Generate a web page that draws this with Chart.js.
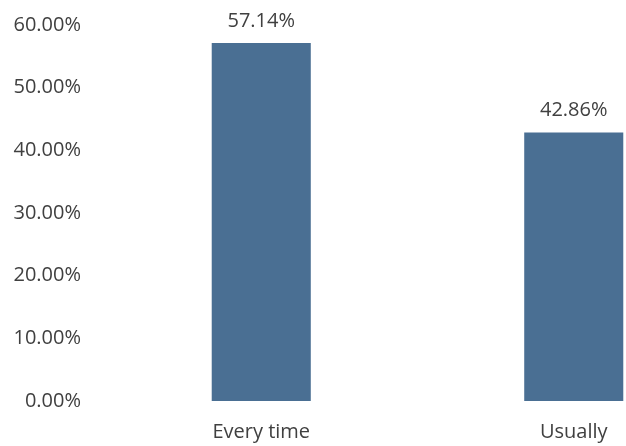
<!DOCTYPE html>
<html>
<head>
<meta charset="utf-8">
<script src="https://cdn.jsdelivr.net/npm/chart.js@4"></script>
<style>
    html, body { margin: 0; padding: 0; background: #fff; overflow: hidden; }
    /* the source chart is cut off at the right edge, so the canvas is wider than the window */
    #wrap { width: 730px; height: 446px; }
</style>
</head>
<body>
<div id="wrap"><canvas id="chart"></canvas></div>
<script>
// --- data ---
const categories = ["Every time", "Usually"];
const shares = [57.14, 42.86];          // %
const yTicks = [0, 10, 20, 30, 40, 50, 60];

const TEXT_COLOR = "#404040";
const BAR_COLOR = "#4a6f93";
const FONT = "'Open Sans', sans-serif";

// value labels above bars
const valueLabels = {
    id: "valueLabels",
    afterDatasetsDraw(chart) {
        const ctx = chart.ctx;
        const meta = chart.getDatasetMeta(0);
        ctx.save();
        ctx.font = `20px ${FONT}`;
        ctx.fillStyle = TEXT_COLOR;
        ctx.textAlign = "center";
        ctx.textBaseline = "alphabetic";
        meta.data.forEach((bar, i) => {
            ctx.fillText(shares[i].toFixed(2) + "%", bar.x, bar.y - 16);
        });
        ctx.restore();
    }
};

new Chart(document.getElementById("chart"), {
    type: "bar",
    data: {
        labels: categories,
        datasets: [{
            data: shares,
            backgroundColor: BAR_COLOR,
            categoryPercentage: 1,
            barPercentage: 0.317
        }]
    },
    options: {
        responsive: true,
        maintainAspectRatio: false,
        animation: false,
        layout: { padding: { top: 25, left: 0, right: 0, bottom: 0 } },
        plugins: {
            legend: { display: false },
            tooltip: { enabled: false }
        },
        scales: {
            x: {
                grid: { display: false, drawTicks: false },
                border: { display: false },
                ticks: {
                    color: TEXT_COLOR,
                    font: { family: FONT, size: 20 },
                    padding: 19,
                    maxRotation: 0
                },
                afterFit(scale) { scale.height = 45; }
            },
            y: {
                min: 0,
                max: 60,
                afterBuildTicks(scale) {
                    scale.ticks = yTicks.map(v => ({ value: v }));
                },
                grid: { display: false, drawTicks: false },
                border: { display: false },
                ticks: {
                    color: TEXT_COLOR,
                    font: { family: FONT, size: 20 },
                    padding: 24,
                    callback: (v) => v.toFixed(2) + "%"
                },
                afterFit(scale) {
                    scale.width = 105;
                    // tick padding should not push the plot area down
                    scale.paddingTop = 0;
                    scale.paddingBottom = 0;
                }
            }
        }
    },
    plugins: [valueLabels]
});
</script>
</body>
</html>
